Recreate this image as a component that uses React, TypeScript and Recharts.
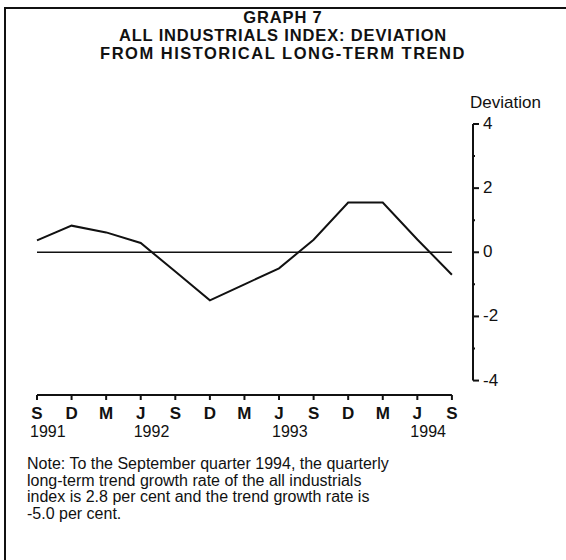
import { Line, LineChart, ReferenceLine, XAxis, YAxis } from "recharts";

const months = ["S", "D", "M", "J", "S", "D", "M", "J", "S", "D", "M", "J", "S"];
const years = ["1991", "", "", "1992", "", "", "", "1993", "", "", "", "1994", ""];
const deviation = [0.37, 0.83, 0.62, 0.29, -0.6, -1.5, -1.0, -0.5, 0.39, 1.55, 1.55, 0.4, -0.7];
const yTicks = [-4, -3, -2, -1, 0, 1, 2, 3, 4];
const titleLines = ["GRAPH 7", "ALL INDUSTRIALS INDEX: DEVIATION", "FROM HISTORICAL LONG-TERM TREND"];
const noteLines = [
  "Note: To the September quarter 1994, the quarterly",
  "long-term trend growth rate of the all industrials",
  "index is 2.8 per cent and the trend growth rate is",
  "-5.0 per cent.",
];

const FONT = '"Liberation Sans", Arial, Helvetica, sans-serif';
const LAST = months.length - 1;
const X_MAX = LAST + 0.61; // room between last quarter and the deviation axis
const Y_MIN = -4.45; // x axis sits a little below -4

const chartData = deviation.map((v, i) => ({ i, deviation: v }));

function QuarterTick({ x, y, payload }: any) {
  const idx = payload.value as number;
  return (
    <g>
      <text x={x} y={y + 17} textAnchor="middle" fontSize={17} fontWeight={700} fontFamily={FONT} fill="#111">
        {months[idx]}
      </text>
      {years[idx] && (
        <text x={x - 7} y={y + 35} textAnchor="start" fontSize={16} fontFamily={FONT} fill="#111">
          {years[idx]}
        </text>
      )}
    </g>
  );
}

function DeviationTick({ x, y, payload }: any) {
  const v = payload.value as number;
  const major = v % 2 === 0;
  return (
    <g>
      <line x1={x} x2={x + (major ? 6 : 2)} y1={y} y2={y} stroke="#111" strokeWidth={2} />
      {major && (
        <text x={x + 10} y={y + 5} fontSize={17} fontFamily={FONT} fill="#111">
          {v}
        </text>
      )}
    </g>
  );
}

export default function App() {
  return (
    <div style={{ position: "absolute", left: 0, top: 0, width: 566, height: 560, background: "#fff", fontFamily: FONT, color: "#111" }}>
      <div style={{ position: "absolute", left: 4, top: 7, width: 562, height: 553, borderTop: "2px solid #111", borderLeft: "2px solid #111" }} />
      <div style={{ position: "absolute", left: 0, top: 7.5, width: 566, textAlign: "center", fontWeight: 700, fontSize: 16.5, lineHeight: "18px" }}>
        {titleLines.map((l, i) => (
          <div key={l} style={{ letterSpacing: i === 2 ? 1.5 : 0.85 }}>
            {l}
          </div>
        ))}
      </div>
      <div style={{ position: "absolute", left: 470, top: 93, fontSize: 17 }}>Deviation</div>
      <div style={{ position: "absolute", left: 27, top: 456, fontSize: 16, lineHeight: "16.5px" }}>
        {noteLines.map((l) => (
          <div key={l}>{l}</div>
        ))}
      </div>
      <div style={{ position: "absolute", left: 0, top: 0 }}>
        <LineChart width={566} height={560} data={chartData} margin={{ top: 124, right: 33, left: 37, bottom: 115 }}>
          <XAxis
            dataKey="i"
            type="number"
            domain={[0, X_MAX]}
            ticks={months.map((_, i) => i)}
            interval={0}
            height={50}
            axisLine={false}
            tickLine={{ stroke: "#111", strokeWidth: 2 }}
            tickSize={5}
            tick={<QuarterTick />}
          />
          <YAxis
            orientation="right"
            type="number"
            domain={[Y_MIN, 4]}
            ticks={yTicks}
            interval={0}
            width={60}
            axisLine={false}
            tickLine={false}
            tickSize={0}
            tickMargin={0}
            tick={<DeviationTick />}
          />
          <ReferenceLine segment={[{ x: 0, y: Y_MIN }, { x: LAST, y: Y_MIN }]} stroke="#111" strokeWidth={2} />
          <ReferenceLine segment={[{ x: X_MAX, y: -4 }, { x: X_MAX, y: 4 }]} stroke="#111" strokeWidth={2} />
          <ReferenceLine segment={[{ x: 0, y: 0 }, { x: LAST, y: 0 }]} stroke="#111" strokeWidth={1.5} />
          <Line
            type="linear"
            dataKey="deviation"
            stroke="#111"
            strokeWidth={2}
            dot={false}
            isAnimationActive={false}
          />
        </LineChart>
      </div>
    </div>
  );
}
